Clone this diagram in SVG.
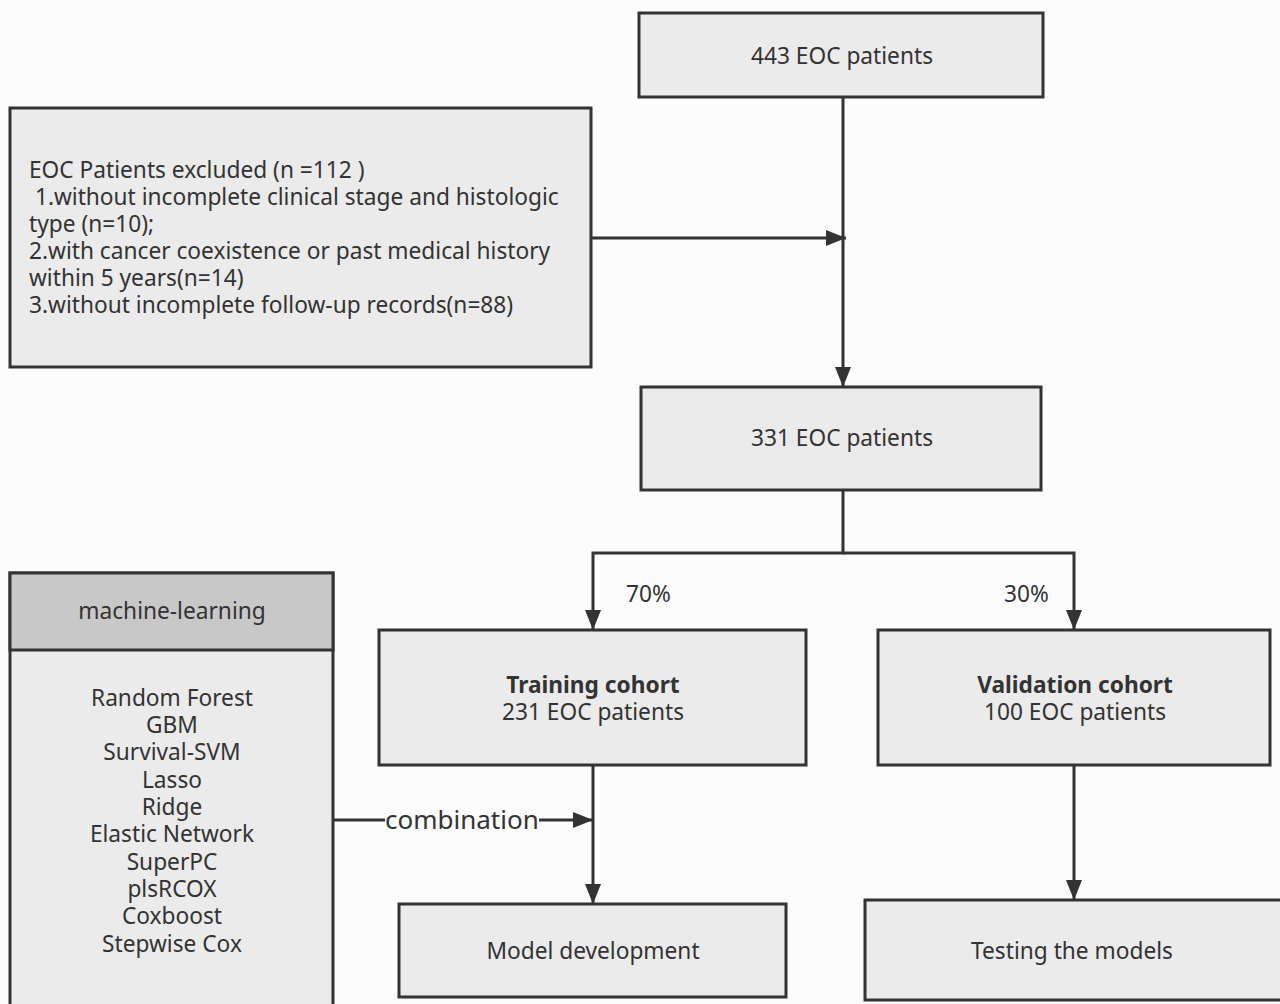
<svg xmlns="http://www.w3.org/2000/svg" width="1280" height="1004" viewBox="0 0 1280 1004">
<defs>
<style>
.box{fill:#ebebeb;stroke:#333;stroke-width:3}
.hdr{fill:#c8c8c8;stroke:#333;stroke-width:3}
.t{font-family:"Noto Sans","Open Sans","Liberation Sans",sans-serif;font-size:22.7px;fill:#333}
.c{text-anchor:middle}
.b{font-weight:bold}
.ln{fill:none;stroke:#333;stroke-width:3}
</style>
<marker id="ah" viewBox="0 0 20 20" refX="20" refY="10" markerWidth="20" markerHeight="20" markerUnits="userSpaceOnUse" orient="auto">
<path d="M0,2 L20,10 L0,18 Z" fill="#333"/>
</marker>
</defs>
<rect width="1280" height="1004" fill="#fcfcfc"/>
<g id="connectors">
<line class="ln" x1="843" y1="97" x2="843" y2="387" marker-end="url(#ah)"/>
<line class="ln" x1="591" y1="238" x2="846" y2="238" marker-end="url(#ah)"/>
<polyline class="ln" points="843,490 843,553 593,553 593,630" marker-end="url(#ah)"/>
<polyline class="ln" points="843,553 1074,553 1074,630" marker-end="url(#ah)"/>
<line class="ln" x1="593" y1="765" x2="593" y2="904" marker-end="url(#ah)"/>
<line class="ln" x1="1074" y1="765" x2="1074" y2="900" marker-end="url(#ah)"/>
<line class="ln" x1="333" y1="820" x2="385" y2="820"/>
<line class="ln" x1="539" y1="820" x2="593" y2="820" marker-end="url(#ah)"/>
<text class="t" x="385" y="829" style="font-size:26px">combination</text>
<text class="t" x="626" y="602">70%</text>
<text class="t" x="1004" y="602">30%</text>
</g>
<g id="n443">
<rect class="box" x="639" y="13" width="404" height="84"/>
<text class="t c" x="842" y="64">443 EOC patients</text>
</g>
<g id="excluded">
<rect class="box" x="10" y="108" width="581" height="259"/>
<text class="t" x="29" y="178">EOC Patients excluded (n =112 )</text>
<text class="t" x="29" y="205" xml:space="preserve"> 1.without incomplete clinical stage and histologic</text>
<text class="t" x="29" y="232">type (n=10);</text>
<text class="t" x="29" y="259">2.with cancer coexistence or past medical history</text>
<text class="t" x="29" y="286">within 5 years(n=14)</text>
<text class="t" x="29" y="313">3.without incomplete follow-up records(n=88)</text>
</g>
<g id="n331">
<rect class="box" x="641" y="387" width="400" height="103"/>
<text class="t c" x="842" y="446">331 EOC patients</text>
</g>
<g id="training">
<rect class="box" x="379" y="630" width="427" height="135"/>
<text class="t c b" x="593" y="693">Training cohort</text>
<text class="t c" x="593" y="720">231 EOC patients</text>
</g>
<g id="validation">
<rect class="box" x="878" y="630" width="392" height="135"/>
<text class="t c b" x="1075" y="693">Validation cohort</text>
<text class="t c" x="1075" y="720">100 EOC patients</text>
</g>
<g id="ml">
<rect class="box" x="10" y="573" width="323" height="440"/>
<rect class="hdr" x="10" y="573" width="323" height="77"/>
<text class="t c" x="172" y="619">machine-learning</text>
<text class="t c" x="172" y="706">Random Forest</text>
<text class="t c" x="172" y="733">GBM</text>
<text class="t c" x="172" y="760">Survival-SVM</text>
<text class="t c" x="172" y="788">Lasso</text>
<text class="t c" x="172" y="815">Ridge</text>
<text class="t c" x="172" y="842">Elastic Network</text>
<text class="t c" x="172" y="870">SuperPC</text>
<text class="t c" x="172" y="897">plsRCOX</text>
<text class="t c" x="172" y="924">Coxboost</text>
<text class="t c" x="172" y="952">Stepwise Cox</text>
</g>
<g id="model">
<rect class="box" x="399" y="904" width="387" height="93"/>
<text class="t c" x="593" y="959">Model development</text>
</g>
<g id="testing">
<rect class="box" x="865" y="900" width="420" height="100"/>
<text class="t c" x="1072" y="959">Testing the models</text>
</g>
</svg>
